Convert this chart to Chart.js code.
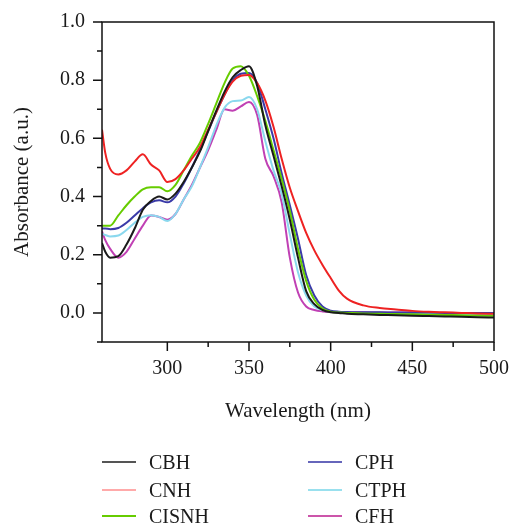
<!DOCTYPE html>
<html>
<head>
<meta charset="utf-8">
<script src="https://cdn.jsdelivr.net/npm/chart.js@4.4.1/dist/chart.umd.min.js"></script>
<style>
  html, body { margin: 0; padding: 0; background: #fff; }
  #wrap { position: relative; width: 510px; height: 525px; }
  #legend { position: absolute; left: 0; top: 0; width: 510px; height: 525px; pointer-events: none; }
  .lg-line { position: absolute; height: 2px; width: 34px; }
  .lg-text { position: absolute; font-family: "Liberation Serif", serif; font-size: 20px; line-height: 24px; color: #1a1a1a; }
</style>
</head>
<body>
<div id="wrap">
  <canvas id="uv"></canvas>
  <div id="legend"></div>
</div>
<script>
"use strict";

// Wavelength grid (nm)
const WAVELENGTH = [260, 262, 265, 270, 275, 280, 285, 290, 295, 300,
                    305, 310, 315, 320, 325, 330, 335, 340, 345, 350,
                    355, 360, 365, 370, 375, 380, 385, 390, 395, 400,
                    405, 410, 420, 430, 440, 450, 460, 470, 480, 490, 500];

// Absorbance (a.u.)
const CBH   = [0.24, 0.21, 0.19, 0.195, 0.235, 0.29, 0.355, 0.385, 0.40, 0.39,
               0.41, 0.45, 0.50, 0.555, 0.625, 0.695, 0.76, 0.81, 0.835, 0.848,
               0.78, 0.645, 0.54, 0.435, 0.32, 0.19, 0.075, 0.03, 0.01, 0.002,
               0.0, -0.003, -0.005, -0.007, -0.008, -0.010, -0.011, -0.012, -0.013, -0.015, -0.016];
const CNH   = [0.63, 0.55, 0.495, 0.476, 0.49, 0.52, 0.545, 0.51, 0.49, 0.45,
               0.46, 0.49, 0.53, 0.57, 0.63, 0.69, 0.75, 0.795, 0.815, 0.818,
               0.79, 0.73, 0.64, 0.53, 0.43, 0.35, 0.275, 0.215, 0.165, 0.12,
               0.077, 0.049, 0.026, 0.017, 0.012, 0.007, 0.004, 0.002, 0.0, -0.002, -0.003];
const CISNH = [0.30, 0.30, 0.30, 0.335, 0.37, 0.40, 0.425, 0.432, 0.432, 0.418,
               0.44, 0.49, 0.54, 0.585, 0.65, 0.72, 0.79, 0.84, 0.848, 0.815,
               0.745, 0.66, 0.56, 0.46, 0.35, 0.22, 0.11, 0.045, 0.015, 0.004,
               0.001, 0.0, -0.002, -0.003, -0.004, -0.005, -0.006, -0.007, -0.008, -0.009, -0.010];
const CPH   = [0.29, 0.29, 0.288, 0.292, 0.31, 0.335, 0.36, 0.38, 0.387, 0.38,
               0.40, 0.445, 0.50, 0.56, 0.625, 0.69, 0.75, 0.80, 0.822, 0.825,
               0.79, 0.70, 0.60, 0.48, 0.37, 0.255, 0.13, 0.06, 0.022, 0.008,
               0.004, 0.003, 0.002, 0.002, 0.001, 0.001, 0.001, 0.0, 0.0, 0.0, 0.0];
const CTPH  = [0.272, 0.268, 0.263, 0.266, 0.285, 0.31, 0.33, 0.336, 0.33, 0.316,
               0.34, 0.39, 0.435, 0.50, 0.57, 0.645, 0.705, 0.728, 0.73, 0.742,
               0.70, 0.59, 0.49, 0.41, 0.27, 0.14, 0.06, 0.022, 0.01, 0.004,
               0.001, 0.0, -0.001, -0.002, -0.003, -0.003, -0.004, -0.004, -0.005, -0.005, -0.005];
const CFH   = [0.28, 0.25, 0.22, 0.19, 0.21, 0.255, 0.30, 0.335, 0.33, 0.32,
               0.34, 0.39, 0.44, 0.50, 0.56, 0.63, 0.70, 0.695, 0.71, 0.725,
               0.68, 0.53, 0.47, 0.38, 0.19, 0.07, 0.022, 0.01, 0.005, 0.003,
               0.002, 0.002, 0.002, 0.001, 0.001, 0.001, 0.0, 0.0, 0.0, 0.0, 0.0];

const NAMES         = ["CBH", "CNH", "CISNH", "CPH", "CTPH", "CFH"];
const SERIES        = [CBH, CNH, CISNH, CPH, CTPH, CFH];
const LINE_COLORS   = ["#1a1a1a", "#ee2222", "#66cc00", "#3a3aa8", "#8ad8ee", "#c040b4"];
const LEGEND_COLORS = ["#555555", "#ffaaaa", "#66cc00", "#6666bb", "#99e0ee", "#cc55aa"];

const X_MIN = 260, X_MAX = 500;
const Y_MIN = -0.1, Y_MAX = 1.0;

const FONT = "'Liberation Serif', 'Times New Roman', serif";

// Box frame + outward ticks (major longer than minor)
const frameTicks = {
  id: "frameTicks",
  afterDraw(chart) {
    const { ctx, chartArea: a, scales: { x, y } } = chart;
    ctx.save();
    ctx.strokeStyle = "#111";
    ctx.lineWidth = 1.5;
    ctx.strokeRect(a.left, a.top, a.right - a.left, a.bottom - a.top);
    ctx.beginPath();
    x.ticks.forEach(t => {
      const px = x.getPixelForValue(t.value);
      const len = t.value % 50 === 0 ? 9 : 5;
      ctx.moveTo(px, a.bottom);
      ctx.lineTo(px, a.bottom + len);
    });
    y.ticks.forEach(t => {
      const py = y.getPixelForValue(t.value);
      const major = Math.round(t.value * 10) % 2 === 0;
      ctx.moveTo(a.left, py);
      ctx.lineTo(a.left - (major ? 9 : 5), py);
    });
    ctx.stroke();
    ctx.restore();
  },
};

// keep the plot box fixed: no extra room reserved for end labels
function noEdgePadding(s) {
  s.paddingTop = 0; s.paddingBottom = 0; s.paddingLeft = 0; s.paddingRight = 0;
}

const datasets = SERIES.map((s, i) => ({
  label: NAMES[i],
  data: WAVELENGTH.map((w, j) => ({ x: w, y: s[j] })),
  borderColor: LINE_COLORS[i],
  borderWidth: 2,
  pointRadius: 0,
  fill: false,
  cubicInterpolationMode: "monotone",
}));

new Chart(document.getElementById("uv"), {
  type: "line",
  data: { datasets },
  options: {
    responsive: true,
    maintainAspectRatio: false,
    animation: false,
    layout: { padding: { top: 22, right: 16, bottom: 93, left: 0 } },
    plugins: { legend: { display: false }, tooltip: { enabled: false } },
    scales: {
      x: {
        type: "linear",
        min: X_MIN, max: X_MAX,
        afterBuildTicks: s => { s.ticks = s.ticks.filter(t => t.value % 25 === 0); },
        afterFit: s => { s.height = 90; noEdgePadding(s); },
        ticks: {
          stepSize: 25,
          padding: 15,
          maxRotation: 0,
          autoSkip: false,
          color: "#1a1a1a",
          font: { family: FONT, size: 20 },
          callback: v => (v % 50 === 0 ? String(v) : ""),
        },
        grid: { display: false, drawTicks: false },
        border: { display: false },
        title: {
          display: true, text: "Wavelength (nm)", color: "#1a1a1a",
          font: { family: FONT, size: 21 }, padding: { top: 0, bottom: 8 },
        },
      },
      y: {
        min: Y_MIN, max: Y_MAX,
        afterFit: s => { s.width = 102; noEdgePadding(s); },
        ticks: {
          stepSize: 0.1,
          padding: 17,
          autoSkip: false,
          color: "#1a1a1a",
          font: { family: FONT, size: 20 },
          callback: v => {
            const k = Math.round(v * 10);
            return k >= 0 && k % 2 === 0 ? (k / 10).toFixed(1) : "";
          },
        },
        grid: { display: false, drawTicks: false },
        border: { display: false },
        title: {
          display: true, text: "Absorbance (a.u.)", color: "#1a1a1a",
          font: { family: FONT, size: 21 }, padding: { top: 10, bottom: 0 },
        },
      },
    },
  },
  plugins: [frameTicks],
});

// Two-column legend below the plot (column-major order)
const legend = document.getElementById("legend");
const COL_X = [102, 308];
const ROW_Y = [462, 489.5, 516];
NAMES.forEach((name, i) => {
  const col = Math.floor(i / 3), row = i % 3;
  const line = document.createElement("div");
  line.className = "lg-line";
  line.style.left = COL_X[col] + "px";
  line.style.top = (ROW_Y[row] - 1) + "px";
  line.style.background = LEGEND_COLORS[i];
  legend.appendChild(line);
  const txt = document.createElement("div");
  txt.className = "lg-text";
  txt.style.left = (COL_X[col] + 47) + "px";
  txt.style.top = (ROW_Y[row] - 12) + "px";
  txt.textContent = name;
  legend.appendChild(txt);
});
</script>
</body>
</html>
